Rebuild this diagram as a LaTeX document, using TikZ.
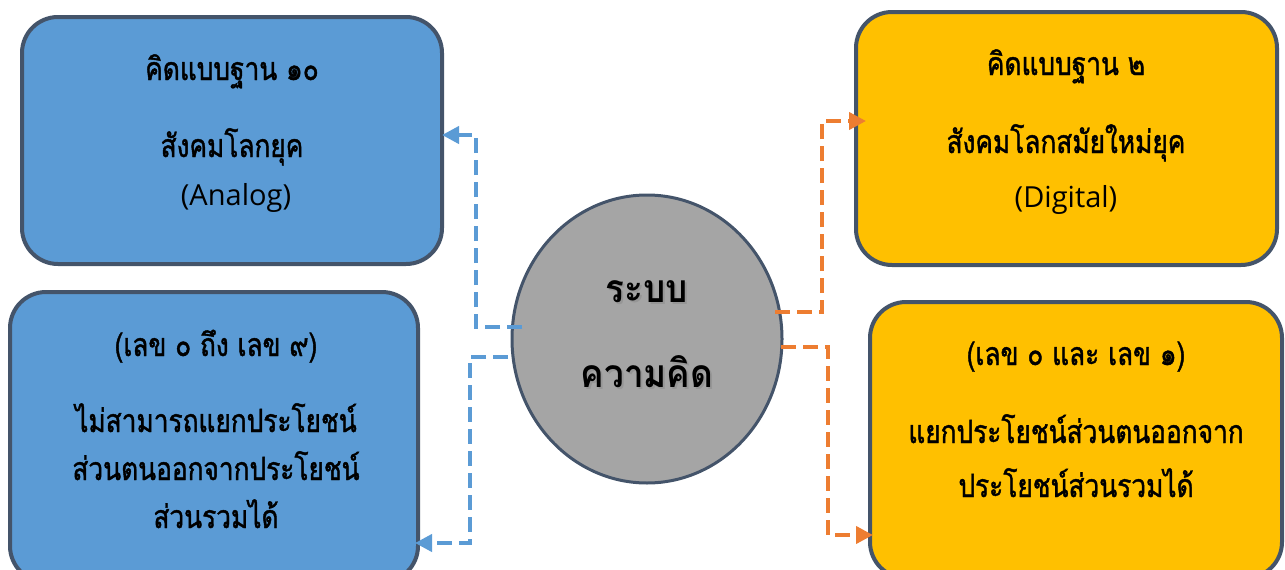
\documentclass[tikz,border=0pt]{standalone}
\usepackage{fontspec}
\newfontfamily\thaifont[Script=Thai,FakeStretch=0.82,FakeBold=1.3]{Loma}
\newfontfamily\thaicirc[Script=Thai,FakeStretch=0.9]{Loma}
\newfontfamily\latinfont{Open Sans}
\usetikzlibrary{arrows.meta,shapes.geometric,calc}
\definecolor{boxblue}{HTML}{5B9BD5}
\definecolor{boxorange}{HTML}{FFC000}
\definecolor{edgecol}{HTML}{44546A}
\definecolor{linkblue}{HTML}{5B9BD5}
\definecolor{linkorange}{HTML}{ED7D31}
\definecolor{circfill}{HTML}{A5A5A5}
\begin{document}
\begin{tikzpicture}[x=1pt,y=-1pt,
  boxshape/.style={rectangle, rounded corners=36pt, draw=edgecol, line width=4pt, inner sep=0pt},
  bluebox/.style={boxshape, fill=boxblue},
  orangebox/.style={boxshape, fill=boxorange},
  txt/.style={anchor=base, inner sep=0pt, font=\thaifont\fontsize{32}{38}\selectfont},
  ltxt/.style={anchor=base, inner sep=0pt, font=\latinfont\fontsize{29}{34}\selectfont},
  ctxt/.style={anchor=base, inner sep=0pt, font=\thaicirc\bfseries\fontsize{39}{46}\selectfont},
  link/.style={line width=4pt, dash pattern=on 15pt off 7pt, -{Triangle[length=17pt,width=17pt]}},
  bluelink/.style={link, draw=linkblue},
  orangelink/.style={link, draw=linkorange}]
\useasboundingbox (0,0) rectangle (1285,570);
% boxes
\node[bluebox, minimum width=420pt, minimum height=247pt] (b1) at (232,140.5) {};
\node[bluebox, minimum width=408pt, minimum height=290pt] (b2) at (214,437) {};
\node[orangebox, minimum width=421pt, minimum height=253pt] (b3) at (1066.5,138.5) {};
\node[orangebox, minimum width=412pt, minimum height=276pt] (b4) at (1076,440) {};
% circle
\node[ellipse, draw=edgecol, line width=3pt, fill=circfill, minimum width=270pt, minimum height=288pt, inner sep=0pt] (c) at (647,339) {};
% texts
\node[txt] (t11) at (232,80) {คิดแบบฐาน ๑๐};
\node[txt] (t12) at (232,157) {สังคมโลกยุค};
\node[ltxt] (t13) at (236,205) {(Analog)};
\node[txt] (t21) at (216,356) {(เลข ๐ ถึง เลข ๙)};
\node[txt] (t22) at (216,432) {ไม่สามารถแยกประโยชน์};
\node[txt] (t23) at (216,480) {ส่วนตนออกจากประโยชน์};
\node[txt] (t24) at (216,528) {ส่วนรวมได้};
\node[txt] (t31) at (1066,75) {คิดแบบฐาน ๒};
\node[txt] (t32) at (1066,153) {สังคมโลกสมัยใหม่ยุค};
\node[ltxt] (t33) at (1066,207) {(Digital)};
\node[txt] (t41) at (1076,365) {(เลข ๐ และ เลข ๑)};
\node[txt] (t42) at (1076,443) {แยกประโยชน์ส่วนตนออกจาก};
\node[txt] (t43) at (1076,497) {ประโยชน์ส่วนรวมได้};
\node[ctxt, text=black!45, opacity=0.6] (c1s) at (649,304) {ระบบ};
\node[ctxt, text=black!45, opacity=0.6] (c2s) at (649,389) {ความคิด};
\node[ctxt] (c1) at (647,302) {ระบบ};
\node[ctxt] (c2) at (647,387) {ความคิด};
% connector points
\coordinate (s1) at ($(c.center)+(-125,-12)$);
\coordinate (s2) at ($(c.center)+(-139,18)$);
\coordinate (s3) at ($(c.center)+(128,-27)$);
\coordinate (s4) at ($(c.center)+(134,8)$);
\coordinate (k1) at (476,135);
\coordinate (k2) at (470,543);
\coordinate (k3) at (822,121);
\coordinate (k4) at (828,535);
\draw[bluelink] (s1) -| (k1) -- ($(k1 -| b1.east)+(-2,0)$);
\draw[bluelink] (s2) -| (k2) -- ($(k2 -| b2.east)+(-5,0)$);
\draw[orangelink] (s3) -| (k3) -- ($(k3 -| b3.west)+(12,0)$);
\draw[orangelink] (s4) -| (k4) -- ($(k4 -| b4.west)+(5,0)$);
\end{tikzpicture}
\end{document}
